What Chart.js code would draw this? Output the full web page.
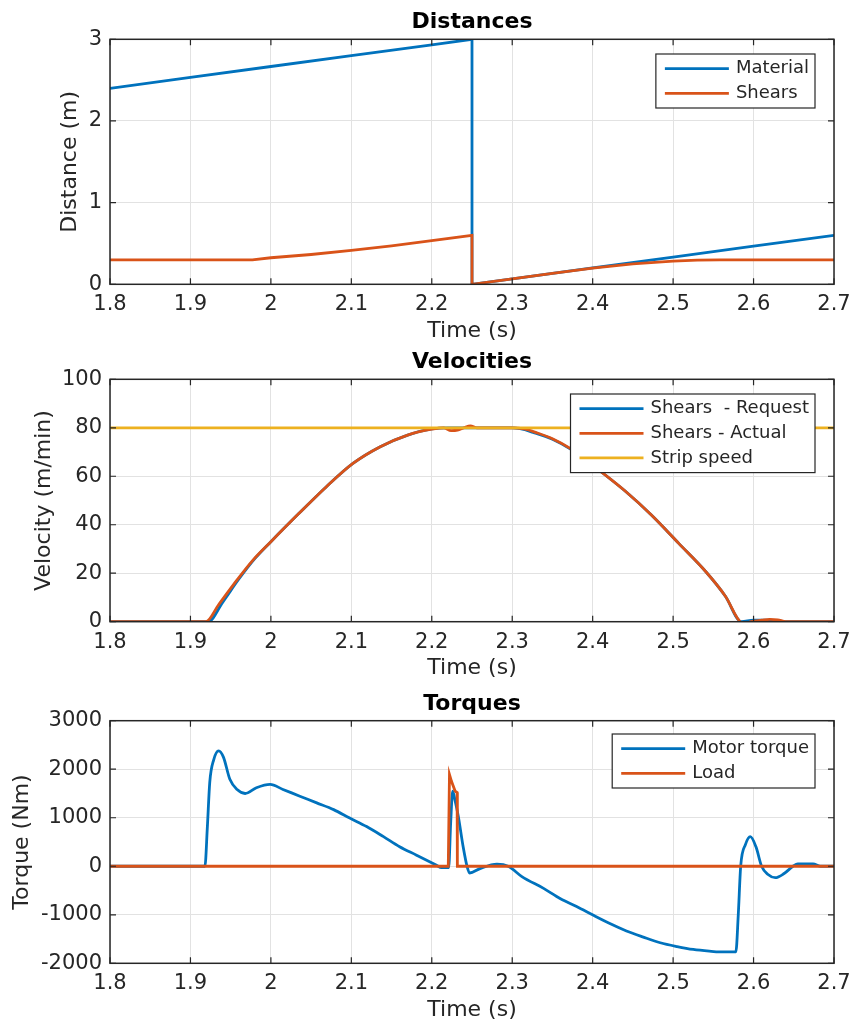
<!DOCTYPE html>
<html><head><meta charset="utf-8">
<script src="https://cdn.jsdelivr.net/npm/chart.js@4.4.1/dist/chart.umd.min.js"></script>
<style>
html,body{margin:0;padding:0;background:#fff;}
body{width:849px;height:1024px;position:relative;overflow:hidden;}
canvas{position:absolute;left:0;}
</style></head><body>
<canvas id="c1" width="849" height="345" style="top:0px"></canvas>
<canvas id="c2" width="849" height="340" style="top:345px"></canvas>
<canvas id="c3" width="849" height="339" style="top:685px"></canvas>
<script>
// ---------- tick values / labels ----------
const xTickValues = [1.8,1.9,2.0,2.1,2.2,2.3,2.4,2.5,2.6,2.7];
const xTickLabels = ['1.8','1.9','2','2.1','2.2','2.3','2.4','2.5','2.6','2.7'];
const distTickValues = [0,1,2,3];
const distTickLabels = ['0','1','2','3'];
const velTickValues = [0,20,40,60,80,100];
const velTickLabels = ['0','20','40','60','80','100'];
const torqTickValues = [-2000,-1000,0,1000,2000,3000];
const torqTickLabels = ['-2000','-1000','0','1000','2000','3000'];

// ---------- Distances ----------
const materialTime = [1.8,1.9,2.0,2.1,2.2,2.25,2.25,2.3,2.4,2.5,2.6,2.7];
const materialDist = [2.4,2.533,2.667,2.8,2.933,3.0,0.0,0.067,0.2,0.333,0.467,0.6];
const shearsTime = [1.8,1.9,1.977,2.0,2.05,2.1,2.15,2.2,2.25,2.25,2.3,2.35,2.4,2.45,2.5,2.53,2.558,2.6,2.7];
const shearsDist = [0.3,0.3,0.3,0.325,0.365,0.415,0.47,0.535,0.6,0.0,0.067,0.133,0.197,0.25,0.283,0.296,0.3,0.3,0.3];

// ---------- Velocities ----------
const reqTime = [1.8,1.922,1.94,1.96,1.98,2.0,2.035,2.069,2.102,2.136,2.17,2.2,2.22,2.3,2.31,2.325,2.35,2.372,2.406,2.44,2.473,2.507,2.541,2.565,2.585,2.6,2.62,2.64,2.7];
const reqVel = [0,0,8,17.5,26,33,44.7,55.7,65.3,72.2,77,79.5,80,80,79.6,78.2,75.3,71.3,63,54,44,32.3,20.5,10.5,0,0.6,0.6,0,0];
const actTime = [1.8,1.919,1.935,1.954,1.978,2.0,2.035,2.069,2.102,2.136,2.17,2.2,2.215,2.224,2.232,2.24,2.248,2.256,2.3,2.315,2.33,2.35,2.372,2.406,2.44,2.473,2.507,2.541,2.565,2.585,2.59,2.597,2.61,2.62,2.63,2.64,2.7];
const actVel = [0,0,7,15.5,25.5,33,44.7,55.7,65.3,72.2,77,79.4,80,78.8,79,80,80.8,80,80,79.5,78,75.5,71.5,63,54,44,32.3,20.5,10.5,-0.5,-0.8,0,0.6,1.0,0.8,0,0];
const stripTime = [1.8,2.7];
const stripVel = [80,80];

// ---------- Torques ----------
const motorTime = [1.8,1.918,1.921,1.924,1.929,1.935,1.941,1.949,1.958,1.968,1.982,1.999,2.015,2.036,2.057,2.078,2.098,2.119,2.14,2.16,2.181,2.206,2.212,2.221,2.2235,2.226,2.229,2.233,2.239,2.244,2.247,2.26,2.281,2.295,2.312,2.339,2.36,2.38,2.401,2.42,2.442,2.463,2.484,2.505,2.525,2.545,2.558,2.578,2.581,2.584,2.59,2.596,2.603,2.61,2.618,2.627,2.638,2.649,2.655,2.674,2.683,2.7];
const motorTorque = [0,0,800,1730,2200,2380,2250,1792,1580,1500,1618,1688,1583,1444,1306,1167,993,819,610,402,229,21,-30,-30,900,1546,1350,1027,402,-14,-139,-48,42,0,-214,-456,-670,-830,-1010,-1170,-1333,-1460,-1576,-1655,-1715,-1750,-1764,-1764,-1000,0,450,611,400,0,-170,-236,-150,0,50,50,0,0];
const loadTime = [1.8,2.2205,2.222,2.2245,2.229,2.2315,2.2318,2.7];
const loadTorque = [0,0,1890,1750,1550,1520,0,0];

// ---------- styling ----------
const BLUE = '#0072BD', RED = '#D95319', YELLOW = '#EDB120';
const AXIS = '#262626';
Chart.defaults.font.family = '"DejaVu Sans", sans-serif';
Chart.defaults.color = AXIS;

function pts(t, v) { return t.map((x, i) => ({x: x, y: v[i]})); }

const framePlugin = {
  id: 'frame',
  afterDatasetsDraw(chart) {
    const {ctx, chartArea: ca, scales} = chart;
    ctx.save();
    ctx.strokeStyle = AXIS;
    ctx.lineWidth = 1.5;
    ctx.strokeRect(ca.left, ca.top, ca.right - ca.left, ca.bottom - ca.top);
    ctx.lineWidth = 1.2;
    const L = 6;
    ctx.beginPath();
    scales.x.ticks.forEach(t => {
      const px = scales.x.getPixelForValue(t.value);
      ctx.moveTo(px, ca.bottom); ctx.lineTo(px, ca.bottom - L);
      ctx.moveTo(px, ca.top); ctx.lineTo(px, ca.top + L);
    });
    scales.y.ticks.forEach(t => {
      const py = scales.y.getPixelForValue(t.value);
      ctx.moveTo(ca.left, py); ctx.lineTo(ca.left + L, py);
      ctx.moveTo(ca.right, py); ctx.lineTo(ca.right - L, py);
    });
    ctx.stroke();
    ctx.restore();
  }
};

const legendPlugin = {
  id: 'boxLegend',
  afterDatasetsDraw(chart, args, opts) {
    const {ctx, chartArea: ca} = chart;
    const items = chart.data.datasets.map(d => ({label: d.label, color: d.borderColor}));
    ctx.save();
    ctx.font = '18px "DejaVu Sans"';
    const maxW = Math.max(...items.map(i => ctx.measureText(i.label).width));
    const rowH = 24.6, padT = 2.4, padL = 9, lineLen = 64, gap = 7, padR = 6;
    const w = padL + lineLen + gap + maxW + padR;
    const h = items.length * rowH + 2 * padT;
    const x0 = ca.right - 19 - w;
    const y0 = ca.top + opts.top;
    ctx.fillStyle = '#fff';
    ctx.fillRect(x0, y0, w, h);
    ctx.strokeStyle = AXIS;
    ctx.lineWidth = 1.2;
    ctx.strokeRect(x0, y0, w, h);
    items.forEach((it, i) => {
      const cy = y0 + padT + rowH * (i + 0.5);
      ctx.strokeStyle = it.color;
      ctx.lineWidth = 2.8;
      ctx.beginPath();
      ctx.moveTo(x0 + padL, cy); ctx.lineTo(x0 + padL + lineLen, cy);
      ctx.stroke();
      ctx.fillStyle = AXIS;
      ctx.textBaseline = 'middle';
      ctx.textAlign = 'left';
      ctx.fillText(it.label, x0 + padL + lineLen + gap, cy);
    });
    ctx.restore();
  }
};

function makeChart(id, cfg) {
  const xScale = {
    type: 'linear', min: 1.8, max: 2.7,
    afterBuildTicks: s => { s.ticks = xTickValues.map(v => ({value: v})); },
    afterFit: s => { s.height = cfg.xHeight; s.paddingLeft = 0; s.paddingRight = 0; },
    grid: {color: '#e2e2e2', lineWidth: 1, drawTicks: false},
    border: {display: false},
    ticks: {padding: 8, autoSkip: false, maxRotation: 0, font: {size: 21}, color: AXIS,
            callback: (v, i) => xTickLabels[i]},
    title: {display: true, text: 'Time (s)', font: {size: 22}, color: AXIS,
            padding: {top: 0, bottom: cfg.xTitlePad}}
  };
  const yScale = {
    type: 'linear', min: cfg.yMin, max: cfg.yMax,
    afterBuildTicks: s => { s.ticks = cfg.yTickValues.map(v => ({value: v})); },
    afterFit: s => { s.width = 110; },
    grid: {color: '#e2e2e2', lineWidth: 1, drawTicks: false},
    border: {display: false},
    ticks: {padding: 8, autoSkip: false, font: {size: 21}, color: AXIS,
            callback: (v, i) => cfg.yTickLabels[i]},
    title: {display: true, text: cfg.yTitle, font: {size: 22}, color: AXIS,
            padding: {top: cfg.yTitlePad, bottom: 0}}
  };
  return new Chart(document.getElementById(id), {
    type: 'line',
    data: {datasets: cfg.datasets.map(d => Object.assign({
      borderWidth: 2.8, pointRadius: 0, tension: 0, fill: false
    }, d))},
    options: {
      responsive: false, animation: false, events: [], devicePixelRatio: 1,
      layout: {padding: {left: 0, right: 15, top: 0, bottom: 0}},
      scales: {x: xScale, y: yScale},
      plugins: {
        legend: {display: false},
        tooltip: {enabled: false},
        title: {display: true, text: cfg.title, fullSize: false, color: '#000',
                font: {size: 22, weight: 'bold'},
                padding: {top: cfg.titlePadTop, bottom: cfg.titlePadBottom}},
        boxLegend: {top: cfg.legendTop}
      }
    },
    plugins: [framePlugin, legendPlugin]
  });
}

makeChart('c1', {
  title: 'Distances', titlePadTop: 8.8, titlePadBottom: 4.1,
  xHeight: 60.7, xTitlePad: 1.0,
  yMin: 0, yMax: 3, yTickValues: distTickValues, yTickLabels: distTickLabels,
  yTitle: 'Distance (m)', yTitlePad: 56.8, legendTop: 14.7,
  datasets: [
    {label: 'Material', data: pts(materialTime, materialDist), borderColor: BLUE, order: 1},
    {label: 'Shears', data: pts(shearsTime, shearsDist), borderColor: RED, order: 0}
  ]
});

makeChart('c2', {
  title: 'Velocities', titlePadTop: 3.8, titlePadBottom: 4.1,
  xHeight: 63.3, xTitlePad: 3.6,
  yMin: 0, yMax: 100, yTickValues: velTickValues, yTickLabels: velTickLabels,
  yTitle: 'Velocity (m/min)', yTitlePad: 30.8, legendTop: 14.7,
  datasets: [
    {label: 'Shears  - Request', data: pts(reqTime, reqVel), borderColor: BLUE, order: 2, cubicInterpolationMode: 'monotone'},
    {label: 'Shears - Actual', data: pts(actTime, actVel), borderColor: RED, order: 1, cubicInterpolationMode: 'monotone'},
    {label: 'Strip speed', data: pts(stripTime, stripVel), borderColor: YELLOW, order: 0}
  ]
});

makeChart('c3', {
  title: 'Torques', titlePadTop: 5.8, titlePadBottom: 3.5,
  xHeight: 60.7, xTitlePad: 1.0,
  yMin: -2000, yMax: 3000, yTickValues: torqTickValues, yTickLabels: torqTickLabels,
  yTitle: 'Torque (Nm)', yTitlePad: 9.1, legendTop: 13.3,
  datasets: [
    {label: 'Motor torque', data: pts(motorTime, motorTorque), borderColor: BLUE, order: 1, cubicInterpolationMode: 'monotone'},
    {label: 'Load', data: pts(loadTime, loadTorque), borderColor: RED, order: 0}
  ]
});
</script>
</body></html>
